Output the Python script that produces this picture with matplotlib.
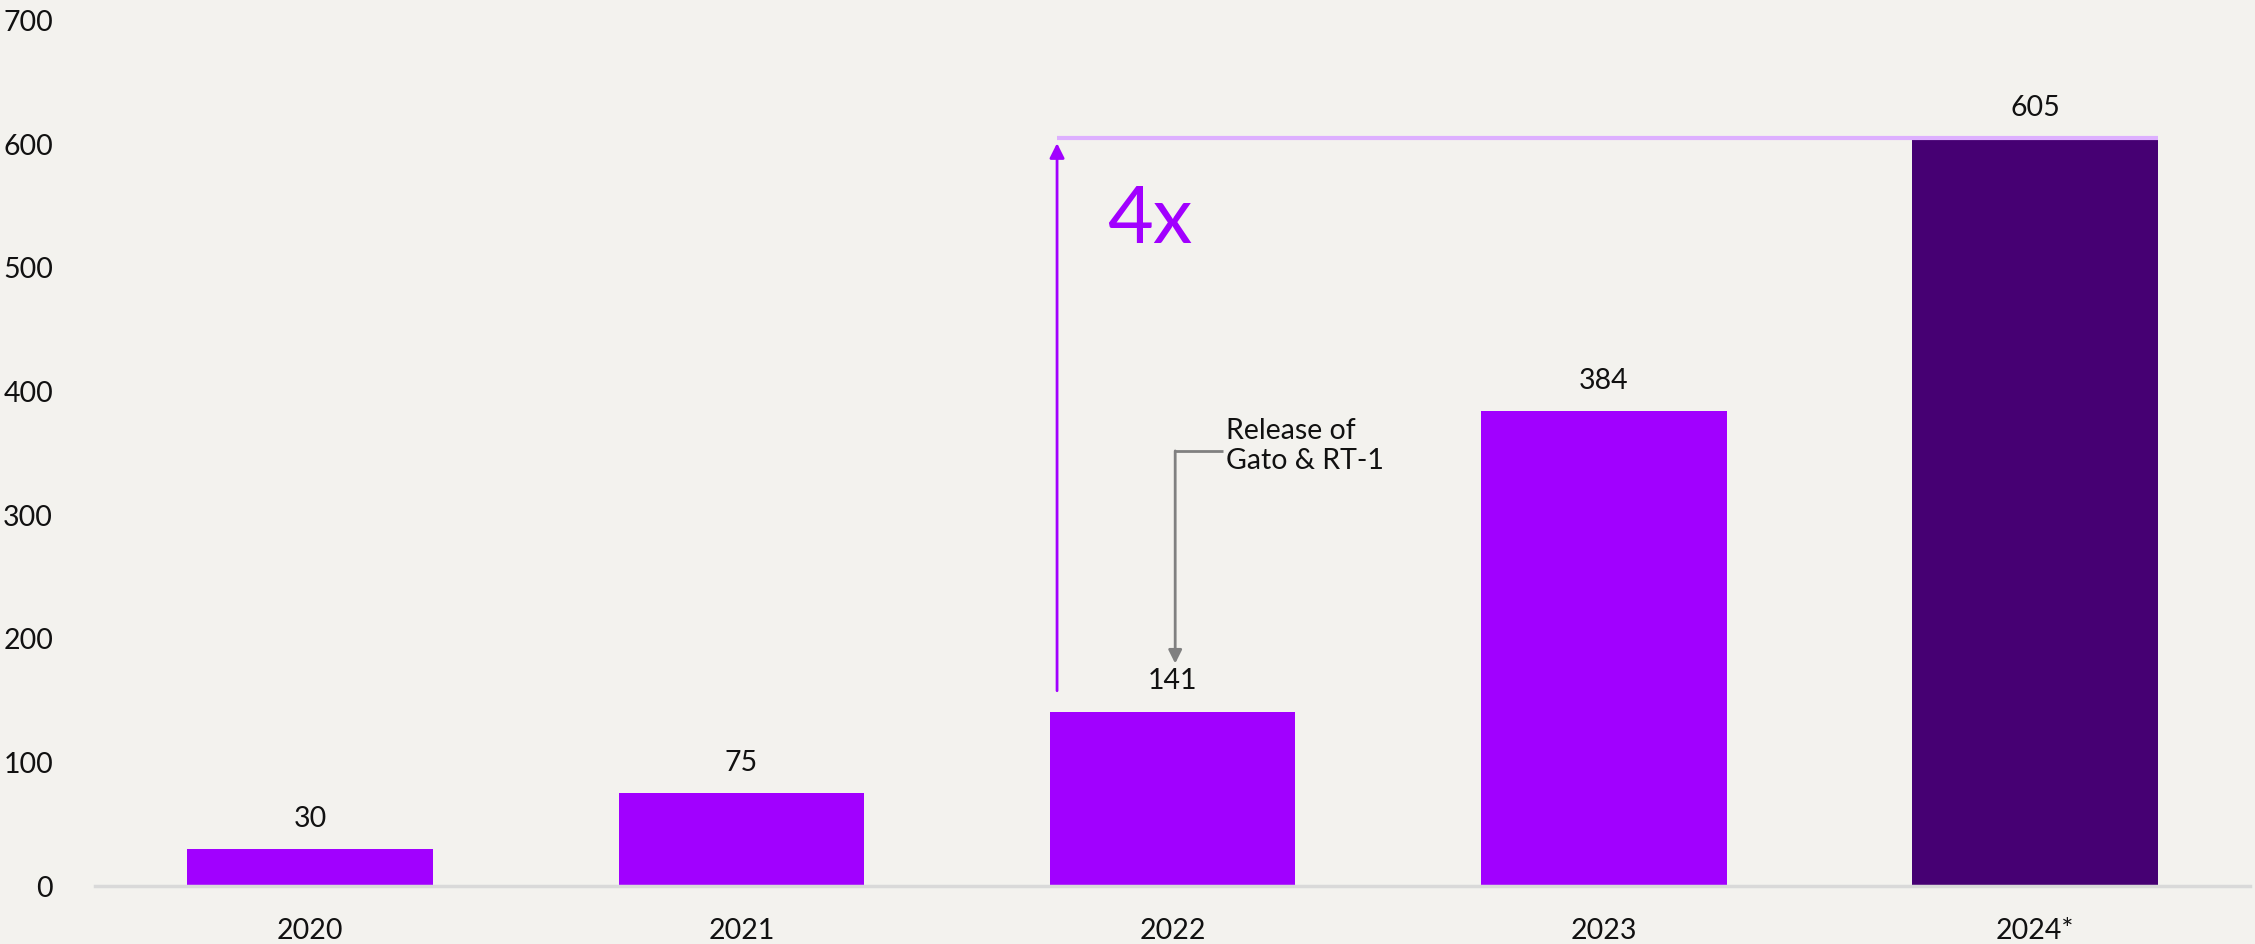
import matplotlib
matplotlib.use("Agg")
import matplotlib.pyplot as plt

years = ["2020", "2021", "2022", "2023", "2024*"]
values = [30, 75, 141, 384, 605]
bar_colors = ["#A100FF", "#A100FF", "#A100FF", "#A100FF", "#460073"]
y_ticks = [0, 100, 200, 300, 400, 500, 600, 700]

growth_label = "4x"
growth_from = 158
note_text = "Release of\nGato & RT-1"

bg = "#F3F2EE"
plt.rcParams["font.family"] = ["Lato", "DejaVu Sans"]
fs = 20.5

fig = plt.figure(figsize=(22.55, 9.44), dpi=100, facecolor=bg)
ax = fig.add_axes([0.042, 0.0614, 0.956, 0.9166])
ax.set_facecolor(bg)

x = list(range(len(years)))
width = 0.57
ax.bar(x, values, width=width, color=bar_colors, zorder=2)

for xi, v in zip(x, values):
    ax.text(xi, v + 14, str(v), ha="center", va="bottom", fontsize=fs, color="#111111")

ax.set_xlim(-0.5, len(years) - 0.5)
ax.set_ylim(0, 700)
ax.set_yticks(y_ticks)
ax.set_yticklabels([str(t) for t in y_ticks], fontsize=fs, color="#111111")
ax.set_xticks(x)
ax.set_xticklabels(years, fontsize=fs, color="#111111")
ax.tick_params(axis="both", length=0)
ax.tick_params(axis="x", pad=23)
ax.tick_params(axis="y", pad=30)

for s in ["top", "right", "left"]:
    ax.spines[s].set_visible(False)
ax.spines["bottom"].set_color("#D9D9D9")
ax.spines["bottom"].set_linewidth(2.5)

# growth reference: horizontal line at the 2024 level and the vertical arrow
arrow_x = 2 - width / 2 + 0.017
ax.plot([arrow_x, 4 + width / 2], [values[4], values[4]], color="#DDB0FF",
        lw=3, solid_capstyle="butt", zorder=3)
ax.annotate("", xy=(arrow_x, values[4] - 4), xytext=(arrow_x, growth_from),
            arrowprops=dict(arrowstyle="-|>", color="#A100FF", lw=2,
                            mutation_scale=22, shrinkA=0, shrinkB=0))
ax.text(arrow_x + 0.115, 538, growth_label, fontsize=57, color="#A100FF",
        ha="left", va="center")

# callout for the 2022 bar
ax.annotate("", xy=(2.006, 180), xytext=(2.006, 352),
            arrowprops=dict(arrowstyle="-|>", color="#808080", lw=2,
                            mutation_scale=20, shrinkA=0, shrinkB=0))
ax.plot([2.006, 2.117], [352, 352], color="#808080", lw=2, solid_capstyle="butt")
ax.text(2.125, 356, note_text, fontsize=fs, color="#111111", ha="left",
        va="center", linespacing=1.2)

fig.savefig("out.png", dpi=100, facecolor=bg)
